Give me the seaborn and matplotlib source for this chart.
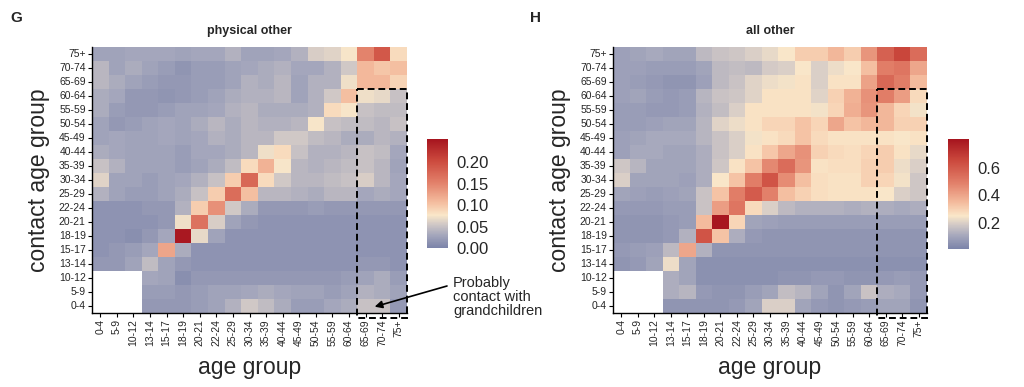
import numpy as np
import pandas as pd
import seaborn as sns
import matplotlib.pyplot as plt
from matplotlib.colors import LinearSegmentedColormap
from matplotlib.patches import Rectangle

nan = np.nan

age_groups = ['0-4', '5-9', '10-12', '13-14', '15-17', '18-19', '20-21', '22-24', '25-29',
              '30-34', '35-39', '40-44', '45-49', '50-54', '55-59', '60-64', '65-69', '70-74', '75+']
# rows from top (75+) down to 0-4, columns 0-4 ... 75+
contact_groups = age_groups[::-1]

physical_other = [
    [0.027, 0.027, 0.030, 0.030, 0.030, 0.027, 0.030, 0.030, 0.038, 0.027, 0.027, 0.030, 0.038, 0.059, 0.063, 0.075, 0.150, 0.190, 0.085],
    [0.042, 0.027, 0.034, 0.027, 0.022, 0.015, 0.022, 0.022, 0.027, 0.030, 0.034, 0.038, 0.030, 0.030, 0.038, 0.055, 0.110, 0.100, 0.105],
    [0.042, 0.034, 0.027, 0.022, 0.018, 0.018, 0.022, 0.022, 0.027, 0.038, 0.034, 0.042, 0.027, 0.038, 0.038, 0.071, 0.110, 0.110, 0.090],
    [0.034, 0.030, 0.018, 0.018, 0.015, 0.018, 0.022, 0.027, 0.034, 0.038, 0.038, 0.042, 0.027, 0.038, 0.055, 0.105, 0.071, 0.067, 0.050],
    [0.034, 0.022, 0.018, 0.018, 0.022, 0.027, 0.027, 0.030, 0.038, 0.042, 0.034, 0.034, 0.034, 0.038, 0.085, 0.075, 0.050, 0.046, 0.046],
    [0.027, 0.018, 0.022, 0.027, 0.030, 0.027, 0.034, 0.042, 0.034, 0.042, 0.038, 0.038, 0.042, 0.075, 0.050, 0.046, 0.046, 0.042, 0.050],
    [0.027, 0.030, 0.027, 0.027, 0.030, 0.027, 0.030, 0.038, 0.034, 0.042, 0.042, 0.055, 0.055, 0.046, 0.042, 0.034, 0.034, 0.042, 0.038],
    [0.034, 0.030, 0.027, 0.027, 0.027, 0.022, 0.030, 0.030, 0.034, 0.042, 0.071, 0.085, 0.050, 0.038, 0.038, 0.042, 0.050, 0.046, 0.030],
    [0.050, 0.038, 0.027, 0.027, 0.027, 0.022, 0.027, 0.034, 0.046, 0.085, 0.115, 0.075, 0.042, 0.038, 0.042, 0.046, 0.050, 0.042, 0.027],
    [0.063, 0.027, 0.027, 0.022, 0.027, 0.030, 0.038, 0.050, 0.095, 0.175, 0.085, 0.055, 0.042, 0.042, 0.046, 0.050, 0.059, 0.042, 0.030],
    [0.038, 0.027, 0.022, 0.022, 0.027, 0.034, 0.050, 0.095, 0.170, 0.105, 0.042, 0.042, 0.038, 0.034, 0.042, 0.042, 0.030, 0.034, 0.030],
    [0.014, 0.014, 0.014, 0.018, 0.018, 0.038, 0.095, 0.140, 0.055, 0.034, 0.018, 0.018, 0.018, 0.022, 0.018, 0.018, 0.018, 0.018, 0.018],
    [0.014, 0.014, 0.014, 0.014, 0.018, 0.071, 0.165, 0.059, 0.027, 0.018, 0.014, 0.014, 0.014, 0.014, 0.014, 0.014, 0.014, 0.014, 0.014],
    [0.014, 0.014, 0.010, 0.018, 0.030, 0.250, 0.067, 0.027, 0.014, 0.014, 0.014, 0.014, 0.014, 0.014, 0.014, 0.014, 0.014, 0.014, 0.014],
    [0.014, 0.018, 0.022, 0.030, 0.125, 0.034, 0.014, 0.014, 0.014, 0.014, 0.014, 0.014, 0.014, 0.014, 0.014, 0.014, 0.014, 0.014, 0.014],
    [0.018, 0.018, 0.027, 0.046, 0.027, 0.018, 0.014, 0.014, 0.014, 0.014, 0.014, 0.014, 0.014, 0.014, 0.014, 0.014, 0.018, 0.018, 0.014],
    [nan, nan, nan, 0.030, 0.027, 0.010, 0.018, 0.018, 0.018, 0.018, 0.018, 0.018, 0.018, 0.018, 0.018, 0.022, 0.027, 0.034, 0.022],
    [nan, nan, nan, 0.022, 0.022, 0.018, 0.022, 0.027, 0.027, 0.030, 0.034, 0.030, 0.027, 0.027, 0.022, 0.027, 0.038, 0.034, 0.027],
    [nan, nan, nan, 0.018, 0.018, 0.018, 0.022, 0.027, 0.038, 0.055, 0.046, 0.034, 0.022, 0.022, 0.030, 0.034, 0.050, 0.050, 0.018],
]

all_other = [
    [0.09, 0.10, 0.11, 0.10, 0.10, 0.15, 0.17, 0.18, 0.20, 0.22, 0.25, 0.31, 0.31, 0.36, 0.31, 0.44, 0.58, 0.66, 0.55],
    [0.09, 0.09, 0.08, 0.08, 0.08, 0.10, 0.15, 0.16, 0.15, 0.19, 0.20, 0.25, 0.20, 0.23, 0.25, 0.34, 0.50, 0.52, 0.40],
    [0.09, 0.08, 0.07, 0.06, 0.06, 0.09, 0.15, 0.17, 0.21, 0.23, 0.24, 0.26, 0.20, 0.26, 0.26, 0.41, 0.56, 0.50, 0.35],
    [0.09, 0.10, 0.08, 0.07, 0.08, 0.14, 0.17, 0.18, 0.21, 0.26, 0.26, 0.26, 0.21, 0.30, 0.37, 0.45, 0.50, 0.42, 0.28],
    [0.08, 0.08, 0.07, 0.07, 0.08, 0.13, 0.16, 0.20, 0.26, 0.26, 0.26, 0.26, 0.24, 0.29, 0.38, 0.44, 0.36, 0.29, 0.24],
    [0.08, 0.08, 0.09, 0.10, 0.10, 0.14, 0.21, 0.23, 0.26, 0.29, 0.29, 0.33, 0.29, 0.40, 0.33, 0.36, 0.36, 0.30, 0.30],
    [0.09, 0.10, 0.11, 0.11, 0.11, 0.14, 0.17, 0.20, 0.24, 0.26, 0.28, 0.33, 0.28, 0.26, 0.26, 0.26, 0.26, 0.25, 0.26],
    [0.09, 0.11, 0.11, 0.10, 0.10, 0.12, 0.17, 0.20, 0.26, 0.32, 0.40, 0.45, 0.30, 0.28, 0.27, 0.29, 0.31, 0.26, 0.22],
    [0.18, 0.14, 0.10, 0.10, 0.10, 0.12, 0.18, 0.26, 0.33, 0.47, 0.55, 0.44, 0.26, 0.27, 0.27, 0.30, 0.31, 0.23, 0.20],
    [0.20, 0.10, 0.10, 0.10, 0.09, 0.12, 0.25, 0.33, 0.50, 0.62, 0.46, 0.34, 0.27, 0.26, 0.26, 0.30, 0.29, 0.24, 0.18],
    [0.10, 0.09, 0.08, 0.09, 0.10, 0.17, 0.33, 0.50, 0.60, 0.49, 0.34, 0.30, 0.27, 0.26, 0.26, 0.26, 0.25, 0.20, 0.18],
    [0.07, 0.07, 0.07, 0.08, 0.08, 0.17, 0.42, 0.52, 0.28, 0.20, 0.15, 0.13, 0.13, 0.13, 0.12, 0.13, 0.12, 0.11, 0.12],
    [0.06, 0.06, 0.06, 0.07, 0.08, 0.35, 0.80, 0.29, 0.10, 0.09, 0.08, 0.08, 0.08, 0.08, 0.08, 0.08, 0.08, 0.08, 0.08],
    [0.06, 0.06, 0.06, 0.07, 0.13, 0.62, 0.33, 0.12, 0.07, 0.06, 0.06, 0.06, 0.06, 0.06, 0.06, 0.06, 0.06, 0.06, 0.06],
    [0.07, 0.08, 0.09, 0.15, 0.40, 0.13, 0.06, 0.06, 0.06, 0.06, 0.06, 0.06, 0.06, 0.06, 0.06, 0.06, 0.06, 0.06, 0.06],
    [0.06, 0.07, 0.10, 0.23, 0.10, 0.05, 0.05, 0.05, 0.05, 0.05, 0.05, 0.05, 0.05, 0.05, 0.05, 0.05, 0.05, 0.05, 0.05],
    [nan, nan, nan, 0.12, 0.10, 0.05, 0.05, 0.05, 0.05, 0.05, 0.06, 0.06, 0.07, 0.07, 0.06, 0.06, 0.07, 0.08, 0.07],
    [nan, nan, nan, 0.12, 0.14, 0.07, 0.06, 0.06, 0.08, 0.10, 0.16, 0.14, 0.10, 0.06, 0.10, 0.17, 0.12, 0.11, 0.07],
    [nan, nan, nan, 0.06, 0.06, 0.06, 0.06, 0.07, 0.10, 0.20, 0.20, 0.10, 0.07, 0.06, 0.07, 0.08, 0.10, 0.10, 0.06],
]

cb_ticks_left = [0.00, 0.05, 0.10, 0.15, 0.20]
cb_ticks_right = [0.2, 0.4, 0.6]

sns.set_style('white')
plt.rcParams['font.family'] = ['Liberation Sans', 'DejaVu Sans']

cmap = LinearSegmentedColormap.from_list('ggmap', [
    (0.00, '#7b83a9'), (0.12, '#a5a7bc'), (0.22, '#d2c9c6'), (0.30, '#fae7c9'),
    (0.42, '#f4bc9e'), (0.60, '#e2806a'), (0.80, '#cc4a3e'), (1.00, '#a6141e')])

fig = plt.figure(figsize=(10.24, 3.87), dpi=100)
W, H = 1024, 387


def px_axes(x0, y0, x1, y1):
    return fig.add_axes([x0 / W, 1 - y1 / H, (x1 - x0) / W, (y1 - y0) / H])


panels = [
    ('physical other', physical_other, (92, 47, 407, 313), (427, 139, 448, 248), 0.0, 0.254,
     cb_ticks_left, ['0.00', '0.05', '0.10', '0.15', '0.20'], 'G', 10),
    ('all other', all_other, (613, 47, 927, 313), (948, 139, 969, 249), 0.01, 0.81,
     cb_ticks_right, ['0.2', '0.4', '0.6'], 'H', 530),
]

for title, mat, axbox, cbbox, vmin, vmax, cticks, clabels, letter, lx in panels:
    ax = px_axes(*axbox)
    cax = px_axes(*cbbox)
    df = pd.DataFrame(mat, index=contact_groups, columns=age_groups)
    sns.heatmap(df, ax=ax, cmap=cmap, vmin=vmin, vmax=vmax, cbar_ax=cax,
                xticklabels=age_groups, yticklabels=contact_groups)

    for side in ['left', 'bottom']:
        ax.spines[side].set_visible(True)
        ax.spines[side].set_color('black')
        ax.spines[side].set_linewidth(1.0)
    ax.tick_params(axis='both', length=3, width=0.8, color='black', labelsize=7.5, pad=1.5,
                   bottom=True, left=True)
    plt.setp(ax.get_xticklabels(), rotation=90)
    plt.setp(ax.get_yticklabels(), rotation=0)
    ax.set_xlabel('age group', fontsize=16.5, labelpad=7)
    ax.set_ylabel('contact age group', fontsize=16.5, labelpad=6)
    ax.set_title(title, fontsize=9, fontweight='bold', pad=9)

    # dashed box over the oldest three age groups
    ax.add_patch(Rectangle((16, 3), 3, 16.35, fill=False, edgecolor='black', lw=1.4,
                           linestyle=(0, (3.5, 2)), clip_on=False, zorder=5))

    cax.set_yticks(cticks)
    cax.set_yticklabels(clabels)
    cax.tick_params(axis='y', direction='in', color='white', length=3, width=0.8,
                    left=True, right=True, labelleft=False, labelright=True,
                    labelsize=12, pad=6)
    for s in cax.spines.values():
        s.set_visible(False)

    fig.text(lx / W, 1 - 18 / H, letter, fontsize=11, fontweight='bold', va='center', ha='left')

ax0 = fig.axes[0]
ax0.annotate('', xy=(17.05, 18.55), xycoords='data',
             xytext=(447 / W, 1 - 286 / H), textcoords='figure fraction',
             arrowprops=dict(arrowstyle='-|>', color='black', lw=1.2, mutation_scale=11,
                             shrinkA=0, shrinkB=0))
fig.text(453 / W, 1 - 297 / H, 'Probably\ncontact with\ngrandchildren', fontsize=10.5,
         ha='left', va='center', linespacing=1.0)

fig.savefig('out.png', dpi=100)
